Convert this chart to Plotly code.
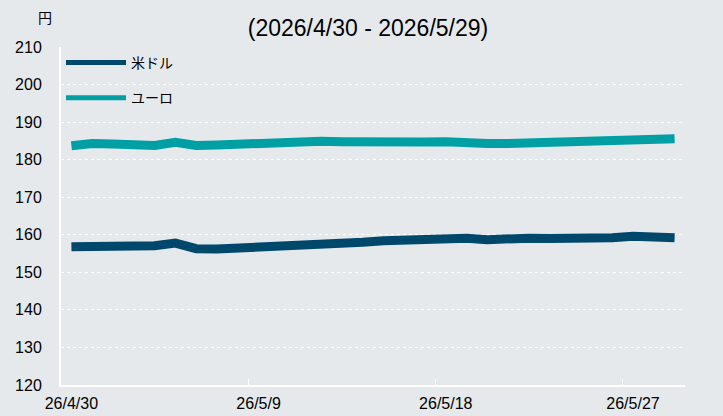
import plotly.graph_objects as go
import datetime as dt

start = dt.date(2026, 4, 30)
dates = [start + dt.timedelta(days=i) for i in range(30)]
categories = [f"{d.year % 100}/{d.month}/{d.day}" for d in dates]

usd = [156.8, 156.8, 156.9, 157.0, 157.1, 157.8, 156.3, 156.2, 156.4, 156.6,
       156.8, 157.0, 157.3, 157.6, 158.0, 158.4, 158.7, 158.8, 159.0, 159.1,
       158.7, 159.1, 159.1, 159.0, 159.0, 158.9, 159.2, 159.6, 159.2, 159.2]
eur = [183.7, 184.3, 184.2, 184.0, 183.8, 184.6, 183.8, 183.9, 184.2, 184.4,
       184.5, 184.7, 184.9, 184.8, 184.7, 184.5, 184.5, 184.7, 184.8, 184.4,
       184.3, 184.3, 184.4, 184.5, 184.7, 184.9, 185.1, 185.2, 185.3, 185.6]

series_names = ["米ドル", "ユーロ"]
colors = ["#00486b", "#009fa3"]
title_text = "(2026/4/30 - 2026/5/29)"
yunit = "円"

bg = "#e6e9ec"
font_family = "Liberation Sans, Arial, Noto Sans CJK JP, sans-serif"

fig = go.Figure()
for name, vals, col in zip(series_names, [usd, eur], colors):
    fig.add_trace(go.Scatter(
        x=categories, y=vals, mode="lines", name=name, legendgroup=name,
        showlegend=False,
        line=dict(color=col, width=9, shape="linear"),
    ))
# legend entries with thinner sample lines
for name, col in zip(series_names, colors):
    fig.add_trace(go.Scatter(
        x=[None], y=[None], mode="lines", name=name, legendgroup=name,
        showlegend=True, line=dict(color=col, width=5),
    ))

fig.update_layout(
    width=723, height=416,
    paper_bgcolor=bg, plot_bgcolor=bg,
    margin=dict(l=61, r=38, t=47, b=31, autoexpand=False),
    font=dict(family=font_family, size=16, color="#000000"),
    title=dict(text=title_text, x=0.509, xanchor="center", y=0.933, yanchor="middle",
               xref="container", yref="container",
               font=dict(size=23, color="#000000")),
    showlegend=True,
    legend=dict(x=0.0, y=1.0, xanchor="left", yanchor="top",
                bgcolor="rgba(0,0,0,0)", font=dict(size=14),
                itemwidth=60, traceorder="grouped", tracegroupgap=14),
    xaxis=dict(type="category", tickson="boundaries", dtick=9, tickangle=0,
               automargin=False,
               showgrid=False, showline=True, linecolor="#ffffff", linewidth=2,
               ticks="inside", ticklen=6, tickcolor="#ffffff", tickwidth=1,
               tickfont=dict(size=16), ticklabelstandoff=3,
               range=[-0.5, 29.5]),
    yaxis=dict(range=[120, 210], dtick=10, tick0=120, automargin=False,
               showgrid=True, gridcolor="#ffffff", griddash="dot", gridwidth=1,
               showline=True, linecolor="#ffffff", linewidth=2,
               ticks="", tickfont=dict(size=16), ticklabelstandoff=14,
               zeroline=False),
    annotations=[dict(text=yunit, xref="paper", yref="paper", x=-0.026, y=1.085,
                      xanchor="center", yanchor="middle", showarrow=False,
                      font=dict(size=14, color="#000000"))],
)

fig.write_html(
    "out.html",
    config={"displayModeBar": False},
    post_script="document.body.style.margin='0px';document.body.style.background='%s';" % bg,
)
